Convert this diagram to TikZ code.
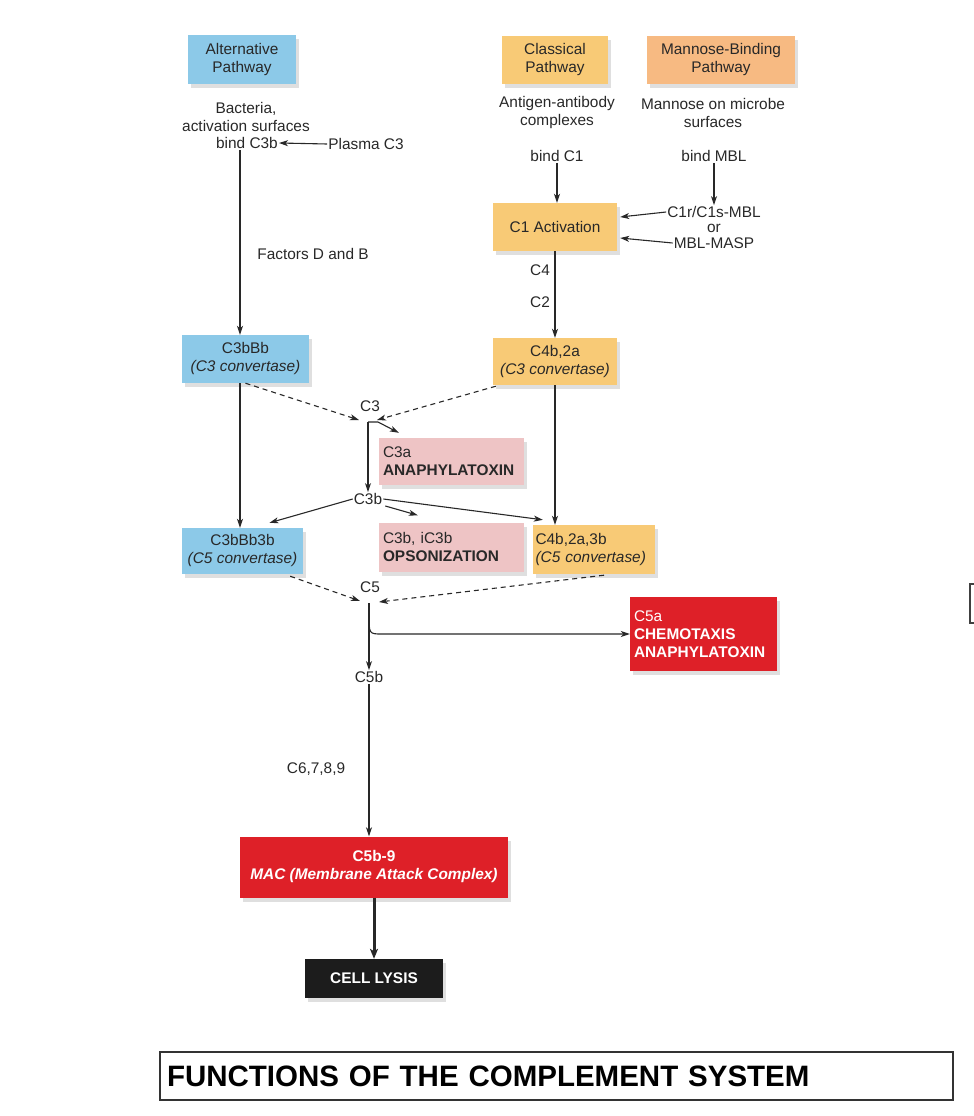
\documentclass[tikz,border=0pt]{standalone}
\usepackage{fontspec}
\setmainfont{Liberation Sans}
\usetikzlibrary{arrows.meta,shadows,calc}
\definecolor{altblue}{RGB}{140,201,232}
\definecolor{clorange}{RGB}{248,202,118}
\definecolor{mborange}{RGB}{247,186,130}
\definecolor{pinkbox}{RGB}{238,196,197}
\definecolor{redbox}{RGB}{222,32,40}
\definecolor{blackbox}{RGB}{28,28,28}
\definecolor{txt}{RGB}{40,40,40}
\begin{document}
\begin{tikzpicture}[x=1pt,y=-1pt,
  font=\fontsize{15.4}{18}\selectfont, text=txt,
  shadowed/.style={drop shadow={opacity=0.25,shadow xshift=3pt,shadow yshift=-4pt}},
  box/.style={shadowed,inner sep=0pt,align=center},
  lbox/.style={shadowed,inner sep=0pt,align=left},
  lbl/.style={inner sep=1pt,align=center},
  arr/.style={draw=txt,line width=1.1pt,-{Stealth[length=9pt,width=6pt,inset=2.5pt]}},
  darr/.style={arr,dash pattern=on 5pt off 4pt},
  thickarr/.style={draw=txt,line width=3pt,-{Stealth[length=10pt,width=8pt,inset=2.5pt]}}]
\useasboundingbox (0,0) rectangle (974,1116);

% pathway headers
\node[box,fill=altblue,minimum width=108pt,minimum height=49pt] (alt) at (242,59.5) {Alternative\\Pathway};
\node[box,fill=clorange,minimum width=106pt,minimum height=48pt] (cla) at (555,60) {Classical\\Pathway};
\node[box,fill=mborange,minimum width=148pt,minimum height=48pt] (mbp) at (721,60) {Mannose-Binding\\Pathway};

% alternative pathway start
\node[lbl] (bact) at (246,116.5) {Bacteria,\\activation surfaces};
\node[lbl] (bindc3b) at (247,143) {bind C3b};
\node[lbl] (plasma) at (366,144) {Plasma C3};
\draw[arr] (plasma.west) -- (bindc3b.east);
\coordinate (altx) at (240,0);
\node[lbl] (fdb) at (313,254) {Factors D and B};

% classical pathway start
\node[lbl] (agab) at (557,113) {Antigen-antibody\\complexes};
\node[lbl] (bindc1) at (557,156) {bind C1};
\node[box,fill=clorange,minimum width=124pt,minimum height=48pt] (c1act) at (555,227) {C1 Activation};
\draw[arr] (bindc1.south) -- (bindc1.south |- c1act.north);

% mannose pathway start
\node[lbl] (mann) at (713,113) {Mannose on microbe\\surfaces};
\node[lbl] (bindmbl) at (714,156) {bind MBL};
\node[lbl] (c1r) at (714,212) {C1r/C1s-MBL};
\node[lbl,inner sep=0pt] (ornode) at (714,228) {or};
\node[lbl] (masp) at (714,243) {MBL-MASP};
\draw[arr] (bindmbl.south) -- (c1r.north);
\draw[arr] (c1r.west) -- ($(c1act.east)+(3,-10)$);
\draw[arr] (masp.west) -- ($(c1act.east)+(3,11)$);

\node[lbl] (c4) at (540,270) {C4};
\node[lbl] (c2) at (540,302) {C2};

% C3 convertases
\node[box,fill=altblue,minimum width=127pt,minimum height=48pt] (c3bbb) at (245.5,359) {C3bBb\\\textit{(C3 convertase)}};
\node[box,fill=clorange,minimum width=124pt,minimum height=47pt] (c4b2a) at (555,361.5) {C4b,2a\\\textit{(C3 convertase)}};

\draw[arr] (bindc3b.south -| altx) -- (c3bbb.north -| altx);
\draw[arr] (c4b2a.north |- c1act.south) -- (c4b2a.north);

% C3 split
\node[lbl] (c3) at (370,406) {C3};
\coordinate (c3j) at (368,422);
\coordinate (c3inL) at (359,420);
\coordinate (c3inR) at (377,420);
\draw[darr] (c3bbb.south) -- (c3inL);
\draw[darr] ($(c4b2a.south west)+(3,1)$) -- (c3inR);

\node[lbox,fill=pinkbox,minimum width=145pt,minimum height=47pt,text width=137pt] (c3a) at (451.5,461.5) {C3a\\\textbf{ANAPHYLATOXIN}};
\node[lbl] (c3b) at (368,499) {C3b};
\draw[arr] (c3j) -- (c3b.north);
\draw[arr] (c3j) -- ++(10,0) -- ($(c3a.north west)+(20,-5)$);

% C5 convertases
\node[box,fill=altblue,minimum width=121pt,minimum height=46pt] (c3bbb3b) at (242.5,551) {C3bBb3b\\\textit{(C5 convertase)}};
\node[lbox,fill=pinkbox,minimum width=145pt,minimum height=49pt,text width=137pt] (opso) at (451.5,547) {C3b, iC3b\\\textbf{OPSONIZATION}};
\node[lbox,fill=clorange,minimum width=122pt,minimum height=49pt,text width=117pt] (c4b2a3b) at (594,549.5) {C4b,2a,3b\\\textit{(C5 convertase)}};

\draw[arr] (c3bbb.south -| altx) -- (c3bbb3b.north -| altx);
\draw[arr] (c4b2a.south) -- (c4b2a.south |- c4b2a3b.north);
\draw[arr] (c3b.west) -- ($(c3bbb3b.north)+(27,-5)$);
\draw[arr] (c3b.east) -- ($(c4b2a3b.north west)+(10,-5)$);
\draw[arr] ($(c3b.east)+(2,7)$) -- ($(opso.north west)+(39,-7)$);

% C5 split
\node[lbl] (c5) at (370,587) {C5};
\coordinate (c5j) at (369,603);
\coordinate (c5k) at (369,614);
\coordinate (c5inL) at (360,601);
\coordinate (c5inR) at (379,602);
\draw[darr] ($(c3bbb3b.south east)+(-13,2)$) -- (c5inL);
\draw[darr] ($(c4b2a3b.south)+(10,1)$) -- (c5inR);

\node[lbox,fill=redbox,minimum width=147pt,minimum height=74pt,text width=139pt,text=white] (c5a) at (703.5,634) {C5a\\\textbf{CHEMOTAXIS}\\\textbf{ANAPHYLATOXIN}};
\node[lbl] (c5b) at (369,677) {C5b};
\draw[arr] (c5j) -- (c5b.north);
\draw[arr] (c5k) .. controls ($(c5k)+(0,20)$) .. ($(c5k)+(13,20)$) -- (c5a.west);

\node[lbl] (c6789) at (316,769) {C6,7,8,9};
\node[box,fill=redbox,minimum width=268pt,minimum height=61pt,text=white] (mac) at (374,867) {\textbf{C5b-9}\\\textbf{\textit{MAC (Membrane Attack Complex)}}};
\draw[arr] (c5b.south) -- (c5b.south |- mac.north);

\node[box,fill=blackbox,minimum width=138pt,minimum height=39pt,text=white] (lysis) at (374,978.5) {\textbf{CELL LYSIS}};
\draw[thickarr] (mac.south) -- (lysis.north);

% footer
\node[draw=black!80,line width=1.2pt,minimum width=793pt,minimum height=48pt,inner sep=0pt,text width=779pt,align=left,text=black,font=\fontsize{29.5}{32}\selectfont\bfseries] (title) at (556.5,1076) {FUNCTIONS OF THE COMPLEMENT SYSTEM};

% stray fragment at right edge
\draw[black!75,line width=1.4pt] (975,584) -- (970,584) -- (970,623) -- (975,623);
\end{tikzpicture}
\end{document}
